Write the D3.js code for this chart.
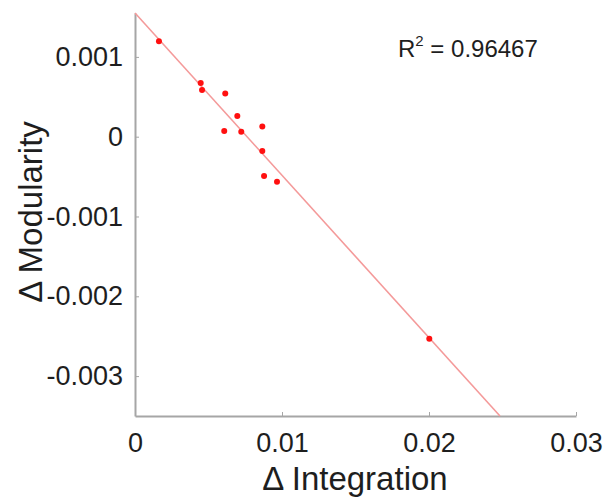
<!DOCTYPE html>
<html lang="en">
<head>
<meta charset="UTF-8">
<title>Modularity vs Integration</title>
<script src="https://d3js.org/d3.v7.min.js"></script>
<style>
    body{ margin:0; background:#fff; }
    text{ font-family: "Liberation Sans", Arial, sans-serif; fill:#1e1e1e; }
    .axis path, .axis line{ stroke:#a6a6a6; }
</style>
</head>
<body>
<svg width="604" height="498"></svg>
<script>
    // values
    const integration = [0.00163, 0.00447, 0.00456, 0.00614, 0.00696, 0.00607, 0.00723, 0.00866, 0.00866, 0.00878, 0.00966, 0.02002]
    const modularity = [0.001196, 0.000674, 0.000586, 0.000540, 0.000260, 0.0000715, 0.0000627, 0.000129, -0.000179, -0.000493, -0.000565, -0.002531]
    const xTicks = [0, 0.01, 0.02, 0.03]
    const yTicks = [0.001, 0, -0.001, -0.002, -0.003]
    const fitIntercept = 0.00155
    const fitSlope = -0.2034
    const rSquared = "0.96467"

    let svg = d3.select("svg")

    let x = d3.scaleLinear().domain([0, 0.03]).range([135, 576])
    let y = d3.scaleLinear().domain([-0.0035, 0.00155]).range([416, 13])

    // x axis (bottom only, ticks inward like matlab)
    let xAxis = svg.append("g")
        .attr("class", "axis")
        .attr("transform", "translate(0,416)")
        .call(d3.axisBottom(x).tickValues(xTicks).tickSizeInner(-4).tickSizeOuter(0)
            .tickFormat(d => d === 0 ? "0" : d.toFixed(2)))
    xAxis.select(".domain").attr("stroke-width", 2)
    xAxis.selectAll("text").attr("font-size", 27).attr("y", 0).attr("dy", 36).attr("fill", "#1e1e1e")

    // y axis
    let yAxis = svg.append("g")
        .attr("class", "axis")
        .attr("transform", "translate(135,0)")
        .call(d3.axisLeft(y).tickValues(yTicks).tickSizeInner(-4).tickSizeOuter(0)
            .tickFormat(d => d === 0 ? "0" : d.toFixed(3)))
    yAxis.select(".domain").attr("stroke-width", 2)
    yAxis.selectAll("text").attr("font-size", 27).attr("x", -12).attr("fill", "#1e1e1e")

    // fit line from the top of the axes down to the bottom edge
    let xEnd = (y.domain()[0] - fitIntercept) / fitSlope
    svg.append("line")
        .attr("x1", x(0)).attr("y1", y(fitIntercept))
        .attr("x2", x(xEnd)).attr("y2", y(fitIntercept + fitSlope * xEnd))
        .attr("stroke", "#f49a9a")
        .attr("stroke-width", 1.6)

    // points
    svg.append("g")
        .selectAll("circle")
        .data(integration)
        .enter()
        .append("circle")
        .attr("cx", d => x(d))
        .attr("cy", (d, i) => y(modularity[i]))
        .attr("r", 3)
        .attr("fill", "#ff1010")

    // R^2 annotation
    let r2 = svg.append("text")
        .attr("x", 398).attr("y", 57)
        .attr("font-size", 24)
    r2.append("tspan").text("R")
    r2.append("tspan").attr("font-size", 15).attr("dy", -11).text("2")
    r2.append("tspan").attr("dy", 11).text(" = " + rSquared)

    // axis labels
    svg.append("text")
        .attr("x", 355).attr("y", 490)
        .attr("text-anchor", "middle")
        .attr("font-size", 33)
        .text("\u0394 Integration")

    svg.append("text")
        .attr("transform", "translate(42,212) rotate(-90)")
        .attr("text-anchor", "middle")
        .attr("font-size", 33)
        .text("\u0394 Modularity")
</script>
</body>
</html>
